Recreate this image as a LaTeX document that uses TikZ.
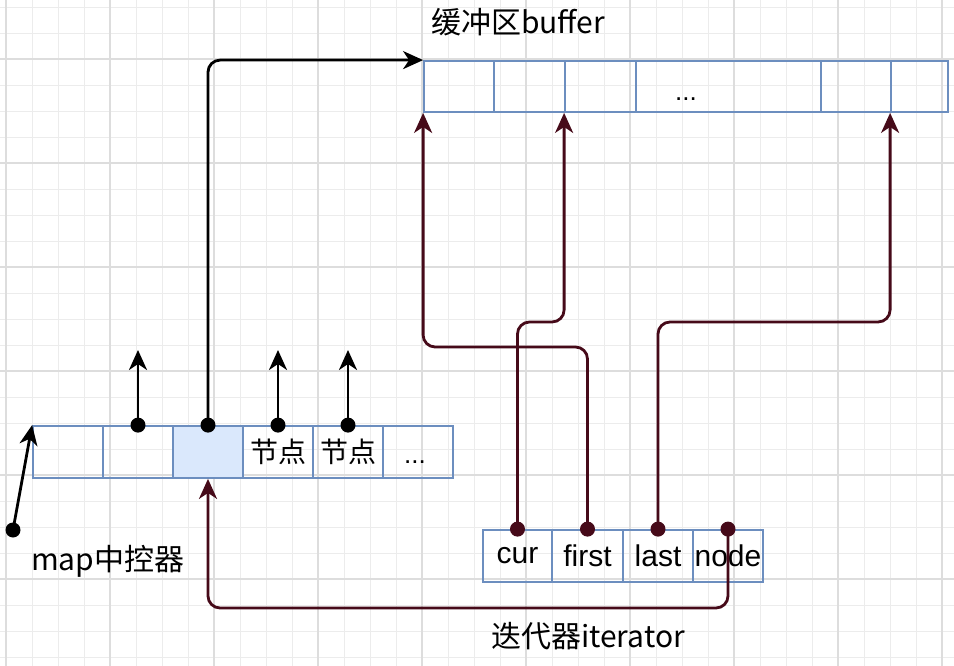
\documentclass[tikz,border=0pt]{standalone}
\usepackage{fontspec}
\setmainfont{Liberation Sans}
\newfontfamily\cjk{Noto Sans CJK SC}
\usetikzlibrary{arrows.meta}
\definecolor{cellblue}{HTML}{6C8EBF}
\definecolor{cellfill}{HTML}{DAE8FC}
\definecolor{itcolor}{RGB}{70,10,25}
\definecolor{gridminor}{HTML}{ECECEC}
\definecolor{gridmajor}{HTML}{DDDDDD}
\begin{document}
\begin{tikzpicture}[x=1pt,y=-1pt,
  cell/.style={draw=cellblue, line width=1.8pt, minimum height=52pt, inner sep=0pt,
    font=\fontsize{30}{33}\selectfont},
  cjkcell/.style={cell, font=\cjk\fontsize{28}{31}\selectfont},
  lbl/.style={anchor=west, inner sep=0pt, font=\cjk\fontsize{30}{34}\selectfont},
  conn/.style={line width=2.8pt, rounded corners=12pt,
    -{Stealth[length=20pt,width=18pt,inset=6pt]}},
  dot/.style={radius=7.5pt}]
% canvas and grid
\fill[white] (0,0) rectangle (954,666);
\useasboundingbox (0,0) rectangle (954,666);
\foreach \x in {6,32,...,954} \draw[gridminor,line width=0.9pt] (\x,0) -- (\x,666);
\foreach \y in {7,33,...,666} \draw[gridminor,line width=0.9pt] (0,\y) -- (954,\y);
\foreach \x in {6,110,...,954} \draw[gridmajor,line width=1.1pt] (\x,0) -- (\x,666);
\foreach \y in {59,163,...,666} \draw[gridmajor,line width=1.1pt] (0,\y) -- (954,\y);

% map array
\node[cell, minimum width=70pt] (m1) at (68,452) {};
\node[cell, minimum width=70pt] (m2) at (138,452) {};
\node[cell, minimum width=70pt, fill=cellfill] (m3) at (208,452) {};
\node[cjkcell, minimum width=70pt] (m4) at (278,452) {节点};
\node[cjkcell, minimum width=70pt] (m5) at (348,452) {节点};
\node[cell, minimum width=70pt] (m6) at (418,452) {};
\node[anchor=base, inner sep=0pt, font=\fontsize{26}{28}\selectfont] (mdots) at (415,463) {...};

% buffer
\node[cell, minimum width=70pt, minimum height=51pt] (b1) at (459,86.5) {};
\node[cell, minimum width=71pt, minimum height=51pt] (b2) at (529.5,86.5) {};
\node[cell, minimum width=71pt, minimum height=51pt] (b3) at (600.5,86.5) {};
\node[cell, minimum width=185pt, minimum height=51pt] (b4) at (728.5,86.5) {};
\node[cell, minimum width=70pt, minimum height=51pt] (b5) at (856,86.5) {};
\node[cell, minimum width=57pt, minimum height=51pt] (b6) at (919.5,86.5) {};
\node[anchor=base, inner sep=0pt, font=\fontsize{26}{28}\selectfont] (bdots) at (686,101) {...};

% iterator
\node[cell, minimum width=69pt] (it1) at (517.5,556) {cur};
\node[cell, minimum width=71pt] (it2) at (587.5,556) {first};
\node[cell, minimum width=70pt] (it3) at (658,556) {last};
\node[cell, minimum width=70pt] (it4) at (728,556) {node};

% labels
\node[lbl] (lbuf) at (431,22) {缓冲区buffer};
\node[lbl] (lmap) at (31,561) {map中控器};
\node[lbl] (lit) at (491,636) {迭代器iterator};

% helper coordinates
\coordinate (up) at (0,350);
\coordinate (mc) at (13,530);
\coordinate (ya) at (0,322);
\coordinate (yb) at (0,347);
\coordinate (yc) at (0,608);

% map connectors
\draw[conn, black] (mc) -- (m1.north west);
\draw[conn, black] (m2.north) -- (m2.north |- up);
\draw[conn, black] (m4.north) -- (m4.north |- up);
\draw[conn, black] (m5.north) -- (m5.north |- up);
\draw[conn, black] (m3.north) |- (b1.north west);
\fill[black] (mc) circle[dot];
\fill[black] (m2.north) circle[dot];
\fill[black] (m3.north) circle[dot];
\fill[black] (m4.north) circle[dot];
\fill[black] (m5.north) circle[dot];

% iterator connectors
\draw[conn, itcolor] (it2.north) -- (it2.north |- yb) -| (b1.south west);
\draw[conn, itcolor] (it1.north) -- (it1.north |- ya) -| (b3.south west);
\draw[conn, itcolor] (it3.north) -- (it3.north |- ya) -| (b6.south west);
\draw[conn, itcolor] (it4.north) -- (it4.north |- yc) -| (m3.south);
\fill[itcolor] (it1.north) circle[dot];
\fill[itcolor] (it2.north) circle[dot];
\fill[itcolor] (it3.north) circle[dot];
\fill[itcolor] (it4.north) circle[dot];
\end{tikzpicture}
\end{document}
